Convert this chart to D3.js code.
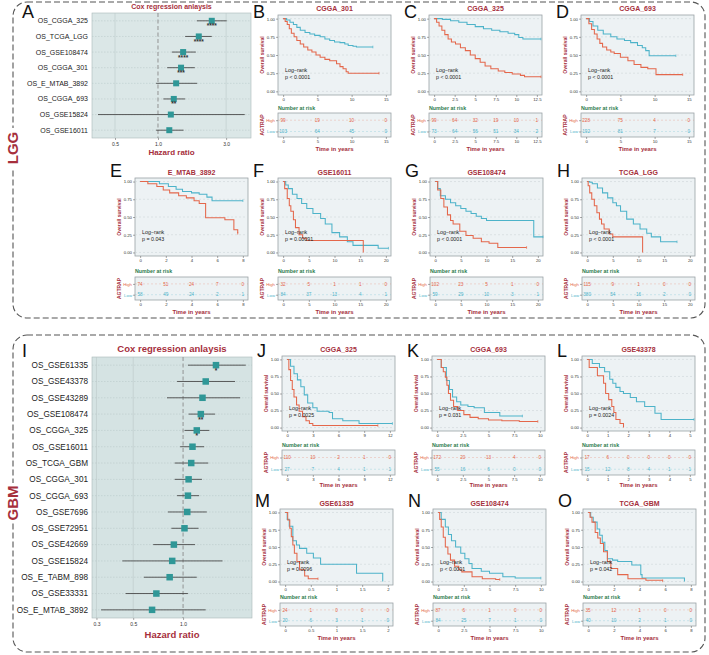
<!DOCTYPE html>
<html>
<head>
<meta charset="utf-8">
<script src="https://cdn.jsdelivr.net/npm/d3@7"></script>
<style>
  body { margin: 0; background: #fff; }
  svg { display: block; font-family: "Liberation Sans", Arial, sans-serif; }
</style>
</head>
<body>
<svg id="fig" width="709" height="655"></svg>
<script>
// ---------- FOREST DATA ----------
let lggCohorts = ['OS_CGGA_325','OS_TCGA_LGG','OS_GSE108474','OS_CGGA_301','OS_E_MTAB_3892','OS_CGGA_693','OS_GSE15824','OS_GSE16011']
let lggHR   = [2.38, 1.93, 1.50, 1.45, 1.34, 1.29, 1.23, 1.20]
let lggLow  = [1.87, 1.55, 1.25, 1.16, 0.97, 1.09, 0.38, 0.97]
let lggHigh = [3.03, 2.38, 1.84, 1.81, 1.88, 1.55, 4.05, 1.51]
let lggStars = ['****','****','****','***','','**','','']
let lggTicks = [0.5, 1.0, 3.0]

let gbmCohorts = ['OS_GSE61335','OS_GSE43378','OS_GSE43289','OS_GSE108474','OS_CGGA_325','OS_GSE16011','OS_TCGA_GBM','OS_CGGA_301','OS_CGGA_693','OS_GSE7696','OS_GSE72951','OS_GSE42669','OS_GSE15824','OS_E_TABM_898','OS_GSE33331','OS_E_MTAB_3892']
let gbmHR   = [1.58, 1.37, 1.31, 1.28, 1.21, 1.14, 1.12, 1.08, 1.07, 1.06, 1.02, 0.88, 0.86, 0.83, 0.69, 0.65]
let gbmLow  = [1.07, 0.92, 0.80, 1.08, 1.02, 0.96, 0.89, 0.89, 0.92, 0.81, 0.85, 0.66, 0.43, 0.58, 0.45, 0.32]
let gbmHigh = [2.39, 2.06, 2.21, 1.56, 1.44, 1.34, 1.42, 1.30, 1.25, 1.39, 1.24, 1.18, 1.73, 1.21, 1.07, 1.37]
let gbmStars = ['*','','','**','*','','','','','','','','','','','']
let gbmTicks = [0.3, 0.5, 1.0]

// ---------- KAPLAN-MEIER DATA [time, survival] ----------
let kmB_high = [[0,1],[0.3,.96],[0.6,.92],[0.9,.86],[1.2,.80],[1.6,.75],[2,.70],[2.5,.65],[3,.61],[3.6,.57],[4.2,.54],[4.8,.50],[5.4,.47],[6.1,.44],[6.8,.42],[7.8,.38],[8.3,.34],[8.75,.31],[9.2,.27],[9.5,.25],[14,.25]]
let kmB_low  = [[0,1],[0.5,.98],[1,.95],[1.5,.92],[2,.88],[2.5,.84],[3.2,.81],[3.9,.79],[4.6,.77],[5.4,.75],[6.1,.72],[6.8,.70],[7.5,.68],[8.3,.67],[9,.65],[9.5,.63],[10.2,.62],[10.7,.61],[13.1,.61]]
let kmC_high = [[0,1],[0.3,.95],[0.6,.90],[0.94,.84],[1.3,.78],[1.7,.72],[2.1,.68],[2.6,.65],[3.2,.60],[3.8,.56],[4.4,.50],[5,.45],[5.6,.40],[6.2,.35],[6.9,.31],[7.8,.28],[8.6,.26],[9.5,.24],[10.5,.22],[11,.20],[13,.20]]
let kmC_low  = [[0,1],[1,.99],[2,.97],[3,.95],[4,.92],[5,.89],[6,.86],[7,.84],[8,.82],[9,.80],[9.8,.78],[10.3,.74],[10.8,.72],[13,.72]]
let kmD_high = [[0,1],[0.4,.93],[0.8,.85],[1.2,.79],[1.6,.72],[2,.66],[2.4,.61],[3,.57],[3.6,.54],[4.1,.52],[5,.47],[6.1,.42],[7,.37],[8,.33],[9,.31],[10.2,.23],[14.1,.23]]
let kmD_low  = [[0,1],[0.5,.96],[1,.90],[1.7,.84],[2.5,.79],[3.6,.75],[4.5,.72],[5.6,.70],[6.5,.67],[7.5,.63],[8.2,.60],[8.7,.56],[9.2,.49],[13.1,.49]]
let kmE_high = [[0,1],[0.6,.97],[1.3,.93],[1.8,.88],[2.3,.84],[3,.80],[3.6,.77],[4.2,.73],[4.6,.69],[5.1,.49],[6.6,.46],[7.3,.32],[7.6,.27]]
let kmE_low  = [[0,1],[1.5,.97],[2.2,.93],[2.8,.89],[3.3,.86],[4,.84],[4.6,.82],[5.2,.78],[5.6,.73],[8,.73]]
let kmF_high = [[0,1],[0.3,.90],[0.8,.76],[1.2,.66],[1.5,.58],[2,.46],[2.4,.35],[3.1,.25],[3.8,.20],[4.5,.17],[15.6,0]]
let kmF_low  = [[0,1],[0.5,.95],[1,.90],[1.8,.82],[2.7,.76],[3.6,.69],[4.6,.62],[5.8,.55],[7.3,.48],[8.2,.40],[9.5,.28],[11,.22],[12.5,.15],[13.6,.10],[18.5,.06],[20.5,.06]]
let kmG_high = [[0,1],[0.5,.88],[1.1,.76],[1.7,.64],[2.4,.53],[3,.45],[3.5,.40],[4.8,.30],[6,.24],[7.4,.20],[9,.15],[10.5,.13],[12.2,.07],[17.8,.07]]
let kmG_low  = [[0,1],[0.5,.90],[1,.80],[2,.75],[3,.70],[4,.66],[5,.62],[6,.58],[7,.55],[8,.51],[9,.48],[10,.45],[19.2,.22],[21,.22]]
let kmH_high = [[0,1],[0.2,.94],[0.5,.84],[0.9,.75],[1.4,.66],[1.9,.56],[2.4,.47],[2.8,.40],[3.3,.33],[4.3,.26],[5,.22],[10.8,0]]
let kmH_low  = [[0,1],[0.5,.99],[1,.97],[2,.91],[3,.84],[4,.77],[5,.70],[5.7,.66],[6.5,.58],[7.7,.47],[9,.40],[10.3,.33],[11.6,.27],[12.5,.22],[14.3,.15],[17.5,.15]]
let kmJ_high = [[0,1],[0.2,.85],[0.4,.69],[0.6,.56],[0.8,.45],[1.1,.33],[1.4,.24],[1.8,.16],[2.2,.10],[2.6,.06],[3,.03],[10.6,.03]]
let kmJ_low  = [[0,1],[0.4,.90],[0.8,.79],[1.2,.70],[1.6,.60],[2,.48],[2.4,.36],[3,.29],[3.5,.24],[4.9,.22],[5.3,.13],[6.5,.10],[8.4,.06],[12.3,.06]]
let kmK_high = [[0,1],[0.4,.88],[0.6,.82],[0.8,.74],[0.95,.62],[1.1,.50],[1.3,.40],[1.6,.31],[2,.25],[2.6,.19],[3.2,.15],[4,.13],[5,.11],[6.3,.10],[8,.09],[9.8,.09]]
let kmK_low  = [[0,1],[0.4,.88],[0.9,.69],[1.2,.56],[1.5,.45],[1.9,.38],[2.3,.33],[3,.31],[3.6,.29],[4.6,.22],[6.1,.17],[8.3,.17]]
let kmL_high = [[0,1],[0.1,.88],[0.5,.76],[0.8,.65],[0.9,.50],[1.05,.41],[1.2,.31],[1.3,.22],[1.4,.12],[1.6,.06],[1.77,0]]
let kmL_low  = [[0,1],[0.25,.94],[0.6,.88],[0.85,.82],[1.1,.71],[1.25,.65],[1.4,.59],[1.6,.53],[1.77,.50],[2.1,.44],[2.4,.38],[2.8,.31],[3.3,.21],[3.6,.12],[5.2,.12]]
let kmM_high = [[0,1],[0.05,.89],[0.09,.77],[0.12,.65],[0.15,.53],[0.18,.41],[0.23,.29],[0.28,.17],[0.38,.08],[0.45,.04],[0.64,.04]]
let kmM_low  = [[0,1],[0.04,.90],[0.08,.80],[0.15,.59],[0.22,.53],[0.28,.48],[0.42,.41],[0.55,.34],[0.69,.25],[1.39,.12],[1.9,0]]
let kmN_high = [[0,1],[0.15,.90],[0.3,.79],[0.5,.64],[0.7,.50],[0.95,.40],[1.2,.31],[1.6,.22],[2,.17],[2.3,.14],[3.3,.07],[4.3,.04],[5.6,.03],[6,.03]]
let kmN_low  = [[0,1],[0.3,.90],[0.7,.79],[1,.68],[1.3,.59],[1.7,.50],[2.2,.41],[2.6,.33],[3,.26],[3.3,.19],[4.2,.15],[5,.12],[6.3,.07],[7.5,.05],[10,.05]]
let kmO_high = [[0,1],[0.15,.93],[0.3,.86],[0.55,.71],[0.75,.63],[0.95,.55],[1.2,.43],[1.5,.29],[1.77,.19],[2.3,.10],[3.1,.04],[4.5,.02],[5.8,.01]]
let kmO_low  = [[0,1],[0.2,.93],[0.4,.86],[0.7,.76],[0.9,.67],[1.1,.57],[1.3,.45],[1.5,.33],[1.9,.31],[2.3,.29],[3.4,.24],[4.1,.10],[4.2,.05],[7.5,0]]

// ---------- NUMBER AT RISK ----------
let riskB_high = [99, 19, 10, 0],           riskB_low = [103, 64, 45, 0]
let riskC_high = [99, 64, 32, 19, 10, 1],   riskC_low = [73, 64, 56, 51, 34, 2]
let riskD_high = [228, 75, 4, 0],           riskD_low = [192, 81, 7, 0]
let riskE_high = [74, 51, 24, 7, 0],        riskE_low = [58, 49, 24, 2, 1]
let riskF_high = [32, 5, 1, 1, 0],          riskF_low = [84, 37, 13, 4, 1]
let riskG_high = [102, 23, 5, 1, 0],        riskG_low = [59, 29, 10, 3, 1]
let riskH_high = [115, 9, 1, 0, 0],         riskH_low = [380, 54, 16, 2, 0]
let riskJ_high = [110, 10, 2, 1, 0],        riskJ_low = [27, 7, 4, 1, 1]
let riskK_high = [172, 20, 13, 4, 0],       riskK_low = [55, 16, 6, 0, 0]
let riskL_high = [17, 6, 0, 0, 0, 0],       riskL_low = [15, 12, 8, 4, 1, 1]
let riskM_high = [24, 1, 0, 0, 0],          riskM_low = [20, 6, 3, 1, 0]
let riskN_high = [87, 6, 1, 0, 0],          riskN_low = [84, 25, 7, 1, 0]
let riskO_high = [35, 12, 1, 0, 0],         riskO_low = [40, 10, 2, 1, 0]

// ---------- TIME TICKS ----------
let ticks15 = [0, 5, 10, 15]
let ticks125 = [0, 2.5, 5, 7.5, 10, 12.5]
let ticks8 = [0, 2, 4, 6, 8]
let ticks20 = [0, 5, 10, 15, 20]
let ticks12 = [0, 3, 6, 9, 12]
let ticks10 = [0, 2.5, 5, 7.5, 10]
let ticks5 = [0, 1, 2, 3, 4, 5]
let ticks2 = [0, 0.5, 1, 1.5, 2]

const HIGH_COL = '#E4674B'
const LOW_COL = '#4DB3C9'
const RED_TXT = '#A62F3C'
const GREEN_TXT = '#2D7B4C'
const PANEL_BG = '#edf2f4'
const svg = d3.select('#fig')

// OUTER DASHED BOXES
function groupBox(y, h, label, labelY) {
    svg.append('rect')
        .attr('x', 13).attr('y', y)
        .attr('width', 692).attr('height', h)
        .attr('rx', 14)
        .attr('fill', 'none')
        .attr('stroke', '#555')
        .attr('stroke-width', 1.1)
        .attr('stroke-dasharray', '6,3')
    svg.append('rect')
        .attr('x', 5).attr('y', labelY - 20)
        .attr('width', 16).attr('height', 40)
        .attr('fill', '#fff')
    svg.append('text')
        .attr('transform', `translate(18,${labelY}) rotate(-90)`)
        .attr('text-anchor', 'middle')
        .attr('fill', RED_TXT)
        .attr('font-size', 15)
        .attr('font-weight', 'bold')
        .text(label)
}
groupBox(2, 316, 'LGG', 148)
groupBox(335, 317, 'GBM', 503)

function styleAxis(g, size) {
    g.select('.domain').remove()
    g.selectAll('line').attr('stroke', '#555').attr('stroke-width', 0.5)
    g.selectAll('text').attr('font-size', size).attr('fill', '#333').attr('font-family', null)
}

function letter(txt, x, y) {
    svg.append('text')
        .attr('x', x).attr('y', y)
        .attr('font-size', 18)
        .attr('fill', '#111')
        .text(txt)
}

// FOREST PLOT
function forest(cfg) {
    let x = d3.scaleLog().domain(cfg.domain).range([cfg.x0, cfg.x1])
    let y = d3.scaleBand().domain(cfg.names).range([cfg.y0, cfg.y1])
    let g = svg.append('g')

    g.append('rect')
        .attr('x', cfg.x0).attr('y', cfg.y0)
        .attr('width', cfg.x1 - cfg.x0).attr('height', cfg.y1 - cfg.y0)
        .attr('fill', cfg.bg).attr('stroke', '#aab8b8').attr('stroke-width', 0.6)

    // GRID
    g.selectAll('.vgrid')
        .data(cfg.ticks.filter(d => d !== 1))
        .join('line')
        .attr('x1', d => x(d)).attr('x2', d => x(d))
        .attr('y1', cfg.y0).attr('y2', cfg.y1)
        .attr('stroke', '#bccaca').attr('stroke-width', 0.6)
    g.selectAll('.hgrid')
        .data(cfg.names)
        .join('line')
        .attr('x1', cfg.x0).attr('x2', cfg.x1)
        .attr('y1', d => y(d) + y.bandwidth() / 2).attr('y2', d => y(d) + y.bandwidth() / 2)
        .attr('stroke', '#b5c4c4').attr('stroke-width', 0.5).attr('stroke-dasharray', '1.5,1.5')
    g.append('line')
        .attr('x1', x(1)).attr('x2', x(1))
        .attr('y1', cfg.y0).attr('y2', cfg.y1)
        .attr('stroke', '#8a8a8a').attr('stroke-width', 0.9).attr('stroke-dasharray', '4,2.5')

    // CONFIDENCE INTERVALS
    g.selectAll('.ci')
        .data(cfg.names)
        .join('line')
        .attr('x1', (d, i) => x(cfg.lo[i])).attr('x2', (d, i) => x(cfg.hi[i]))
        .attr('y1', d => y(d) + y.bandwidth() / 2).attr('y2', d => y(d) + y.bandwidth() / 2)
        .attr('stroke', '#4a4a4a').attr('stroke-width', 0.9)

    // POINTS
    let s = cfg.sq
    g.selectAll('.pt')
        .data(cfg.names)
        .join('rect')
        .attr('x', (d, i) => x(cfg.hr[i]) - s / 2)
        .attr('y', d => y(d) + y.bandwidth() / 2 - s / 2)
        .attr('width', s).attr('height', s)
        .attr('fill', '#2f9797')

    g.selectAll('.star')
        .data(cfg.names)
        .join('text')
        .attr('x', (d, i) => x(cfg.hr[i]))
        .attr('y', d => y(d) + y.bandwidth() / 2 + s / 2 + 4.5)
        .attr('text-anchor', 'middle')
        .attr('font-size', 6.5)
        .attr('font-weight', 'bold')
        .attr('fill', '#333')
        .text((d, i) => cfg.stars[i])

    // LABELS
    g.selectAll('.lab')
        .data(cfg.names)
        .join('text')
        .attr('x', cfg.x0 - 4)
        .attr('y', d => y(d) + y.bandwidth() / 2)
        .attr('dy', '0.35em')
        .attr('text-anchor', 'end')
        .attr('font-size', cfg.labSize)
        .attr('fill', '#222')
        .text(d => d)

    let ax = g.append('g')
        .attr('transform', `translate(0,${cfg.y1})`)
        .call(d3.axisBottom(x).tickValues(cfg.ticks).tickFormat(d3.format('.1f')).tickSizeInner(2).tickSizeOuter(0).tickPadding(2))
    styleAxis(ax, 5)

    g.append('text')
        .attr('x', (cfg.x0 + cfg.x1) / 2).attr('y', cfg.titleY)
        .attr('text-anchor', 'middle')
        .attr('font-size', cfg.titleSize).attr('font-weight', 'bold')
        .attr('fill', RED_TXT)
        .text('Cox regression anlaysis')
    g.append('text')
        .attr('x', (cfg.x0 + cfg.x1) / 2).attr('y', cfg.hrY)
        .attr('text-anchor', 'middle')
        .attr('font-size', cfg.hrSize).attr('font-weight', 'bold')
        .attr('fill', RED_TXT)
        .text('Hazard ratio')
}

forest({names: lggCohorts, hr: lggHR, lo: lggLow, hi: lggHigh, stars: lggStars, ticks: lggTicks,
    domain: [0.345, 4.48], x0: 92, x1: 251, y0: 13, y1: 138, bg: '#dbe7e7', sq: 6,
    labSize: 7, titleSize: 7, titleY: 9, hrSize: 8, hrY: 155})
forest({names: gbmCohorts, hr: gbmHR, lo: gbmLow, hi: gbmHigh, stars: gbmStars, ticks: gbmTicks,
    domain: [0.282, 2.607], x0: 92, x1: 252, y0: 357, y1: 618, bg: '#d5e3e3', sq: 6.5,
    labSize: 8.2, titleSize: 9.5, titleY: 352, hrY: 638, hrSize: 9.5})
letter('A', 22, 18)
letter('I', 22, 357)

// KAPLAN-MEIER PANEL
let rows = {
    r1: {titleY: 8, top: 15, h: 80, narY: 108, boxTop: 113, boxH: 24, timeY: 149, letterY: 18},
    r2: {titleY: 172, top: 178, h: 78, narY: 271, boxTop: 277, boxH: 23, timeY: 312, letterY: 177},
    r3: {titleY: 349, top: 356, h: 75, narY: 445, boxTop: 450, boxH: 25, timeY: 485, letterY: 357},
    r4: {titleY: 503, top: 509, h: 76, narY: 597, boxTop: 603, boxH: 23, timeY: 638, letterY: 507}
}

function km(p) {
    let r = rows[p.row]
    let w = 113
    let xmax = d3.max(p.ticks)
    let x = d3.scaleLinear().domain([-0.05 * xmax, 1.05 * xmax]).range([p.left, p.left + w])
    let y = d3.scaleLinear().domain([-0.05, 1.05]).range([r.top + r.h, r.top])
    let g = svg.append('g')
    let fmtX = d => (d % 1 === 0 ? d3.format('d')(d) : d3.format('.1f')(d))

    letter(p.letter, p.left - 25, r.letterY)
    g.append('text')
        .attr('x', p.left + w / 2).attr('y', r.titleY + 2.5)
        .attr('text-anchor', 'middle')
        .attr('font-size', 7).attr('font-weight', 'bold')
        .attr('fill', RED_TXT)
        .text(p.title)

    // SURVIVAL PLOT
    g.append('rect')
        .attr('x', p.left).attr('y', r.top)
        .attr('width', w).attr('height', r.h)
        .attr('fill', PANEL_BG).attr('stroke', '#9aa2a6').attr('stroke-width', 0.8)
    g.selectAll('.grid')
        .data([0, 0.25, 0.5, 0.75, 1])
        .join('line')
        .attr('x1', p.left).attr('x2', p.left + w)
        .attr('y1', d => y(d)).attr('y2', d => y(d))
        .attr('stroke', '#c8d0d4').attr('stroke-width', 0.5).attr('stroke-dasharray', '2,2')

    let line = d3.line().x(d => x(d[0])).y(d => y(d[1])).curve(d3.curveStepAfter)
    ;[[p.low, LOW_COL], [p.high, HIGH_COL]].forEach(function(c) {
        g.append('path')
            .attr('d', line(c[0]))
            .attr('fill', 'none')
            .attr('stroke', c[1])
            .attr('stroke-width', 1.05)
        let last = c[0][c[0].length - 1]
        if (last[1] > 0) {
            g.append('line')
                .attr('x1', x(last[0])).attr('x2', x(last[0]))
                .attr('y1', y(last[1]) - 1.3).attr('y2', y(last[1]) + 1.3)
                .attr('stroke', c[1]).attr('stroke-width', 0.7)
        }
    })

    let ay = g.append('g')
        .attr('transform', `translate(${p.left},0)`)
        .call(d3.axisLeft(y).tickValues([0, 0.25, 0.5, 0.75, 1]).tickFormat(d3.format('.2f')).tickSizeInner(2).tickSizeOuter(0).tickPadding(1))
    styleAxis(ay, 4.3)
    let ax = g.append('g')
        .attr('transform', `translate(0,${r.top + r.h})`)
        .call(d3.axisBottom(x).tickValues(p.ticks).tickFormat(fmtX).tickSizeInner(2).tickSizeOuter(0).tickPadding(1))
    styleAxis(ax, 4.3)

    g.append('text')
        .attr('transform', `translate(${p.left - 14},${r.top + r.h / 2}) rotate(-90)`)
        .attr('text-anchor', 'middle')
        .attr('font-size', 5).attr('font-weight', 'bold')
        .attr('fill', RED_TXT)
        .text('Overall survival')

    g.append('text')
        .attr('x', p.left + 7).attr('y', y(0.29) + 2)
        .attr('font-size', 5.3).attr('fill', '#222')
        .text('Log\u2212rank')
    g.append('text')
        .attr('x', p.left + 7).attr('y', y(0.29) + 9)
        .attr('font-size', 5.3).attr('fill', '#222')
        .text(p.pval)

    // RISK TABLE
    g.append('text')
        .attr('x', p.left).attr('y', r.narY + 2)
        .attr('font-size', 5.3).attr('font-weight', 'bold')
        .attr('fill', GREEN_TXT)
        .text('Number at risk')
    g.append('rect')
        .attr('x', p.left).attr('y', r.boxTop)
        .attr('width', w).attr('height', r.boxH)
        .attr('fill', PANEL_BG).attr('stroke', '#9aa2a6').attr('stroke-width', 0.8)

    let yr = d3.scalePoint().domain(['High', 'Low']).range([r.boxTop + r.boxH * 0.3, r.boxTop + r.boxH * 0.77])
    let groups = [['High', p.riskHigh, HIGH_COL], ['Low', p.riskLow, LOW_COL]]
    groups.forEach(function(gr) {
        g.append('line')
            .attr('x1', p.left).attr('x2', p.left + w)
            .attr('y1', yr(gr[0])).attr('y2', yr(gr[0]))
            .attr('stroke', gr[2]).attr('stroke-opacity', 0.45)
            .attr('stroke-width', 0.5).attr('stroke-dasharray', '2,2')
        g.selectAll(null)
            .data(gr[1])
            .join('text')
            .attr('x', (d, i) => x(p.ticks[i]))
            .attr('y', yr(gr[0]))
            .attr('dy', '0.35em')
            .attr('text-anchor', 'middle')
            .attr('font-size', 4.6)
            .attr('fill', gr[2])
            .text(d => d)
    })
    let ar = g.append('g')
        .attr('transform', `translate(${p.left},0)`)
        .call(d3.axisLeft(yr).tickSizeInner(2).tickSizeOuter(0).tickPadding(1))
    styleAxis(ar, 4.3)
    ar.selectAll('text').attr('fill', d => d === 'High' ? HIGH_COL : LOW_COL)

    let ax2 = g.append('g')
        .attr('transform', `translate(0,${r.boxTop + r.boxH})`)
        .call(d3.axisBottom(x).tickValues(p.ticks).tickFormat(fmtX).tickSizeInner(2).tickSizeOuter(0).tickPadding(1))
    styleAxis(ax2, 4.3)

    g.append('text')
        .attr('transform', `translate(${p.left - 14},${r.boxTop + r.boxH / 2}) rotate(-90)`)
        .attr('text-anchor', 'middle')
        .attr('font-size', 5).attr('font-weight', 'bold')
        .attr('fill', RED_TXT)
        .text('AGTRAP')
    g.append('text')
        .attr('x', p.left + w / 2).attr('y', r.timeY + 2)
        .attr('text-anchor', 'middle')
        .attr('font-size', 6).attr('font-weight', 'bold')
        .attr('fill', RED_TXT)
        .text('Time in years')
}

km({letter: 'B', title: 'CGGA_301', row: 'r1', left: 278, ticks: ticks15, high: kmB_high, low: kmB_low, riskHigh: riskB_high, riskLow: riskB_low, pval: 'p < 0.0001'})
km({letter: 'C', title: 'CGGA_325', row: 'r1', left: 429, ticks: ticks125, high: kmC_high, low: kmC_low, riskHigh: riskC_high, riskLow: riskC_low, pval: 'p < 0.0001'})
km({letter: 'D', title: 'CGGA_693', row: 'r1', left: 581, ticks: ticks15, high: kmD_high, low: kmD_low, riskHigh: riskD_high, riskLow: riskD_low, pval: 'p < 0.0001'})
km({letter: 'E', title: 'E_MTAB_3892', row: 'r2', left: 135, ticks: ticks8, high: kmE_high, low: kmE_low, riskHigh: riskE_high, riskLow: riskE_low, pval: 'p = 0.043'})
km({letter: 'F', title: 'GSE16011', row: 'r2', left: 278, ticks: ticks20, high: kmF_high, low: kmF_low, riskHigh: riskF_high, riskLow: riskF_low, pval: 'p = 0.00091'})
km({letter: 'G', title: 'GSE108474', row: 'r2', left: 430, ticks: ticks20, high: kmG_high, low: kmG_low, riskHigh: riskG_high, riskLow: riskG_low, pval: 'p < 0.0001'})
km({letter: 'H', title: 'TCGA_LGG', row: 'r2', left: 582, ticks: ticks20, high: kmH_high, low: kmH_low, riskHigh: riskH_high, riskLow: riskH_low, pval: 'p < 0.0001'})
km({letter: 'J', title: 'CGGA_325', row: 'r3', left: 282, ticks: ticks12, high: kmJ_high, low: kmJ_low, riskHigh: riskJ_high, riskLow: riskJ_low, pval: 'p = 0.0025'})
km({letter: 'K', title: 'CGGA_693', row: 'r3', left: 432, ticks: ticks10, high: kmK_high, low: kmK_low, riskHigh: riskK_high, riskLow: riskK_low, pval: 'p = 0.031'})
km({letter: 'L', title: 'GSE43378', row: 'r3', left: 582, ticks: ticks5, high: kmL_high, low: kmL_low, riskHigh: riskL_high, riskLow: riskL_low, pval: 'p = 0.0024'})
km({letter: 'M', title: 'GSE61335', row: 'r4', left: 280, ticks: ticks2, high: kmM_high, low: kmM_low, riskHigh: riskM_high, riskLow: riskM_low, pval: 'p = 0.0096'})
km({letter: 'N', title: 'GSE108474', row: 'r4', left: 433, ticks: ticks10, high: kmN_high, low: kmN_low, riskHigh: riskN_high, riskLow: riskN_low, pval: 'p < 0.0001'})
km({letter: 'O', title: 'TCGA_GBM', row: 'r4', left: 583, ticks: ticks8, high: kmO_high, low: kmO_low, riskHigh: riskO_high, riskLow: riskO_low, pval: 'p = 0.042'})
</script>
</body>
</html>
